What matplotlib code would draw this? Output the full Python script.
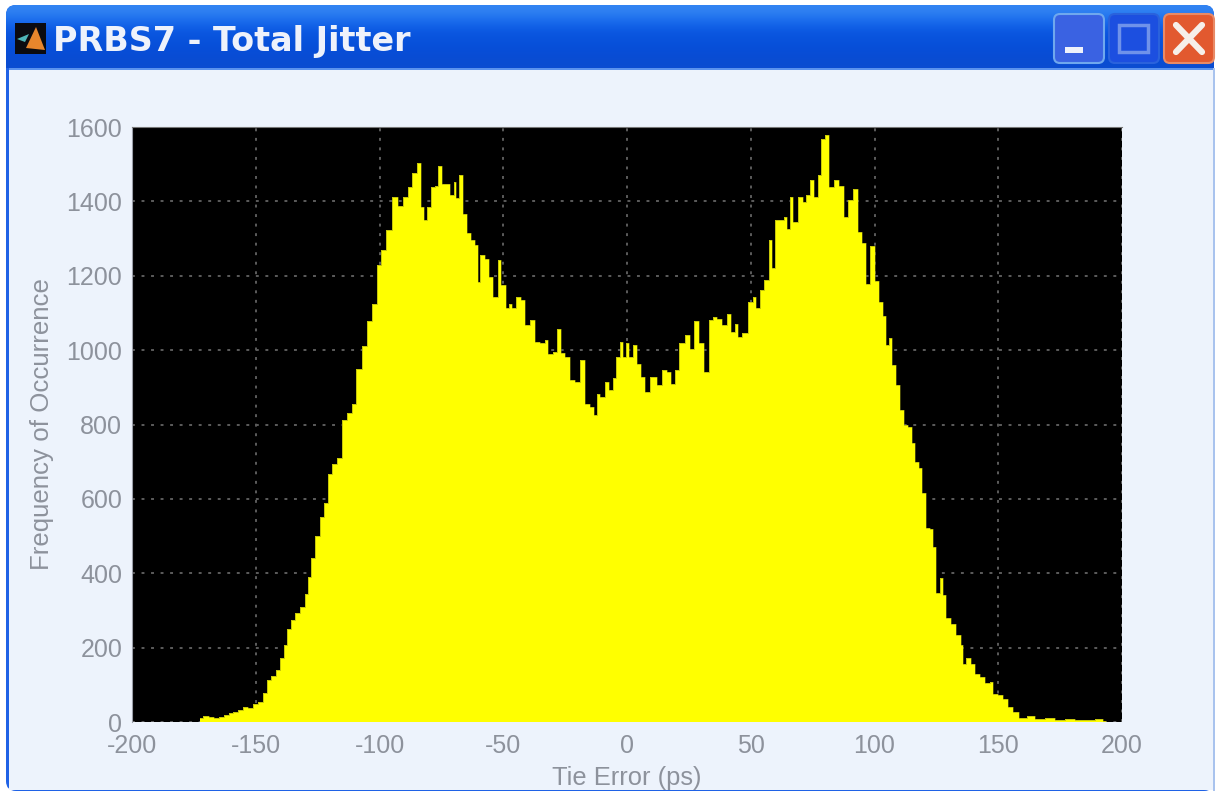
import matplotlib
matplotlib.use("Agg")
import matplotlib.pyplot as plt
import numpy as np
from matplotlib.patches import FancyBboxPatch, Polygon, Rectangle

W, H = 1218, 793

# ------------------ values ------------------#
tie_left = [-172.5, -170, -168, -166, -164, -162, -160, -158, -156, -154, -152, -150, -148, -146,
            -145, -143, -141, -139.5, -138, -136.5, -135, -133, -131, -129.5, -128, -127, -125,
            -123, -121.5, -120, -118, -116, -114, -112, -110.5, -108.5, -106, -104, -102, -100,
            -98.5, -96, -93.5, -91.5, -89.5, -87.5, -86, -84, -82.5, -81.5, -80, -78.5, -77,
            -75.5, -74, -72.5, -70.7, -69.5, -68.5, -67, -65.5, -64, -62, -60.5, -60, -58.5,
            -56.5, -55, -53, -51.5, -50, -48, -47, -46, -44, -42, -40.5, -38, -36, -34, -32.5,
            -31, -29, -27.5, -26, -24, -22, -20, -18, -16, -14, -13, -11.5, -10, -8, -6.5, -5,
            -3.5]
count_left = [12, 15, 13, 12, 14, 18, 25, 27, 33, 40, 38, 48, 55, 78,
              112, 125, 140, 172, 207, 250, 275, 292, 308, 345, 390, 440, 500,
              550, 590, 668, 695, 710, 813, 830, 855, 948, 1010, 1077, 1125, 1228,
              1269, 1322, 1412, 1387, 1412, 1438, 1475, 1503, 1385, 1349, 1385, 1438, 1442,
              1495, 1448, 1448, 1418, 1451, 1409, 1470, 1367, 1314, 1296, 1283, 1183, 1255,
              1246, 1197, 1143, 1243, 1175, 1112, 1125, 1112, 1143, 1134, 1067, 1080, 1022, 1018, 1027,
              989, 995, 1058, 991, 982, 919, 915, 973, 856, 847, 825, 883, 874, 915, 892, 924,
              982]

tie_right = [-2, -1, 0.5, 1.5, 3, 5, 6.5, 8, 10.5, 13.5, 15, 17, 18.5, 20, 22, 24.5, 26.5, 28, 30,
             32.5, 34, 35.5, 37.5, 39.5, 41, 43, 44, 45.5, 47.5, 50, 51.5, 53, 54.5, 56.5, 58, 59,
             60.5, 62.5, 64, 65.5, 66.5, 68, 70, 72, 73, 75, 76.5, 78, 79, 81, 82.5, 84.5, 87, 88.5,
             90, 92.5, 94, 96, 97, 99, 101, 103, 104, 105, 106.5, 108, 109.5, 111, 112.5, 114.5,
             115.5, 117.5, 118.5, 120, 122, 123, 124, 126, 127, 128, 130, 132, 134, 135.5, 136,
             138, 140, 141.5, 143.5, 145.5, 147.5, 148.5, 151, 153, 155, 157, 160, 163, 167, 171,
             175, 179, 183, 187, 191, 193.5]
count_right = [1022, 982, 1018, 982, 1013, 964, 928, 888, 928, 906, 946, 942, 910, 946, 1018, 1040, 1004, 1078, 1018,
               942, 1080, 1089, 1085, 1067, 1098, 1049, 1071, 1036, 1045, 1130, 1143, 1112, 1161, 1188, 1296, 1220,
               1351, 1349, 1358, 1327, 1412, 1345, 1412, 1399, 1417, 1457, 1412, 1470, 1569, 1578, 1438, 1457, 1442, 1358,
               1403, 1434, 1318, 1287, 1179, 1279, 1186, 1129, 1093, 1015, 1033, 960, 906, 839, 798, 793,
               751, 699, 684, 616, 523, 518, 471, 347, 388, 342, 280, 264, 233, 207, 155,
               171, 155, 130, 121, 104, 107, 76, 73, 62, 41, 26, 12, 15, 8, 10,
               6, 8, 5, 6, 7, 4]

x_ticks = [-200, -150, -100, -50, 0, 50, 100, 150, 200]
y_ticks = [0, 200, 400, 600, 800, 1000, 1200, 1400, 1600]

tie = np.array(tie_left + tie_right)
counts = np.array(count_left + count_right)

plt.rcParams["font.family"] = ["Liberation Sans", "DejaVu Sans"]
plt.rcParams["axes.unicode_minus"] = False
fig = plt.figure(figsize=(W / 100, H / 100), dpi=100, facecolor="white")

# ------------------ window frame, in pixels ------------------#
bg = fig.add_axes([0, 0, 1, 1])
bg.set_xlim(0, W)
bg.set_ylim(H, 0)
bg.axis("off")

frame = FancyBboxPatch((6, 5), W - 10, H - 7, boxstyle="round,pad=0,rounding_size=10",
                       fc="#1f62e6", ec="none", zorder=1)
bg.add_patch(frame)
shade = np.array([[0.20, 0.52, 0.95], [0.10, 0.42, 0.93], [0.04, 0.34, 0.88], [0.03, 0.32, 0.86],
                  [0.03, 0.30, 0.84], [0.04, 0.30, 0.82]]).reshape(6, 1, 3)
bar = bg.imshow(shade, extent=(6, W - 4, 68, 5), aspect="auto", interpolation="bicubic", zorder=2)
bar.set_clip_path(frame)
bg.set_xlim(0, W)
bg.set_ylim(H, 0)
bg.add_patch(Rectangle((9, 68), W - 14, H - 71, fc="#edf3fc", ec="none", zorder=3))
bg.add_patch(Rectangle((W - 5, 68), 2, H - 70, fc="#a9c3ee", ec="none", zorder=3))
bg.add_patch(Rectangle((9, 68), W - 14, 2, fc="#5b93ee", ec="none", zorder=3))

# window icon
bg.add_patch(Rectangle((15, 23), 31, 31, fc="#0b0b10", ec="none", zorder=4))
bg.add_patch(Polygon([[36, 27], [45, 50], [26, 48]], fc="#e8862c", ec="none", zorder=5))
bg.add_patch(Polygon([[17, 39], [29, 34], [25, 42]], fc="#4fb6b8", ec="none", zorder=5))

bg.text(53, 41, "PRBS7 - Total Jitter", family="DejaVu Sans", weight="bold", color="#eef2fb",
        fontsize=24, va="center", ha="left", zorder=5)

# buttons
bg.add_patch(FancyBboxPatch((1054, 14), 50, 49, boxstyle="round,pad=0,rounding_size=6",
                            fc="#3a62e2", ec="#6fa8ee", lw=1.5, zorder=4))
bg.add_patch(Rectangle((1065, 47), 18, 6, fc="#eef2fb", ec="none", zorder=5))
bg.add_patch(FancyBboxPatch((1109, 14), 50, 49, boxstyle="round,pad=0,rounding_size=6",
                            fc="#1c4fe0", ec="#2a62dc", lw=1.5, zorder=4))
bg.add_patch(Rectangle((1119, 25), 29, 27, fc="none", ec="#6f92ea", lw=2.5, zorder=5))
bg.add_patch(FancyBboxPatch((1164, 14), 50, 49, boxstyle="round,pad=0,rounding_size=6",
                            fc="#e2592f", ec="#e98a66", lw=1.5, zorder=4))
bg.plot([1176, 1202], [25, 52], color="#f6efe9", lw=4.5, zorder=5, solid_capstyle="round")
bg.plot([1202, 1176], [25, 52], color="#f6efe9", lw=4.5, zorder=5, solid_capstyle="round")

# ------------------ histogram ------------------#
ax = fig.add_axes([132 / W, (H - 722) / H, 990 / W, 595 / H], facecolor="black")
ax.fill_between(tie, counts, 0, step="mid", color="#ffff00", lw=0, zorder=3)
ax.step(tie, counts, where="mid", color="#8f8f10", lw=0.6, zorder=3.5, alpha=0.6)
ax.set_xlim(-200, 200)
ax.set_ylim(0, 1600)
ax.set_xticks(x_ticks)
ax.set_yticks(y_ticks)
ax.grid(True, color="#5c5c5c", lw=1.4, ls=(0, (1.5, 3.4)), zorder=1)
ax.tick_params(length=0, labelsize=18, labelcolor="#8d929c")
ax.tick_params(axis="x", pad=8.5)
ax.tick_params(axis="y", pad=7)
for s in ax.spines.values():
    s.set_visible(False)
ax.spines["top"].set_visible(True)
ax.spines["top"].set_color("#777777")
ax.spines["left"].set_visible(True)
ax.spines["left"].set_color("#9a9ea8")
ax.set_xlabel("Tie Error (ps)", fontsize=18.4, color="#8d929c", labelpad=6)
ax.set_ylabel("Frequency of Occurrence", fontsize=18.6, color="#8d929c", labelpad=9)

fig.savefig("out.png", dpi=100)
